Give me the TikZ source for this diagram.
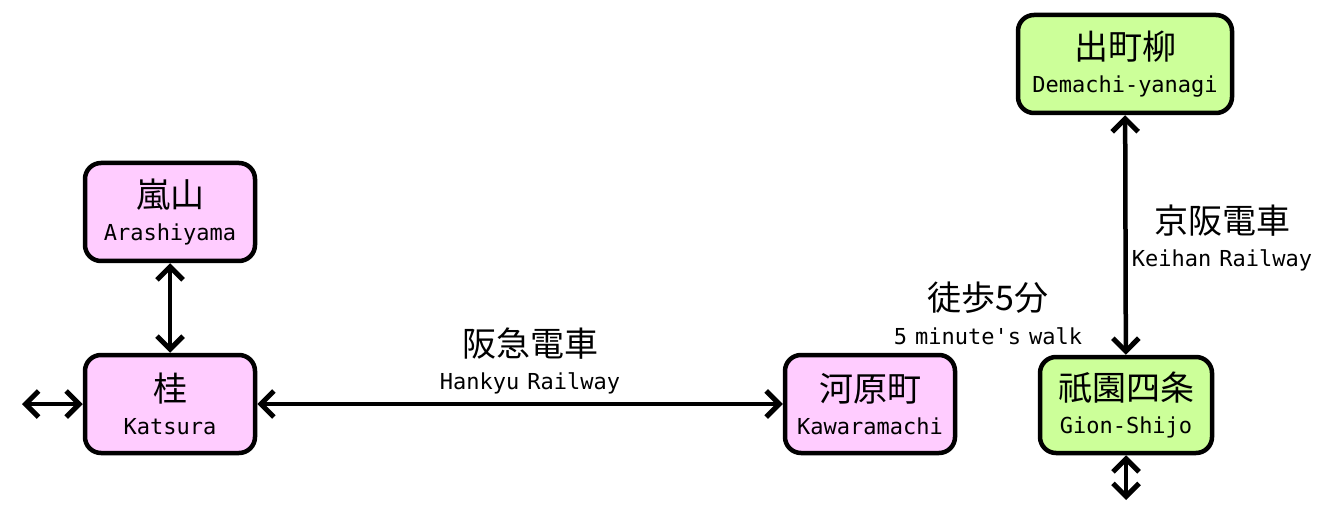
\documentclass[tikz,border=0pt]{standalone}
\usepackage{fontspec}
\usetikzlibrary{arrows.meta}
\newfontfamily\jpfont{Noto Sans CJK JP}
\newfontfamily\enfont[WordSpace=0.6]{DejaVu Sans Mono}
\newcommand{\jpl}[1]{{\fontsize{34}{36}\jpfont #1}}
\newcommand{\enl}[1]{{\fontsize{22}{24}\enfont #1}}
\definecolor{pinkfill}{HTML}{FFCCFF}
\definecolor{greenfill}{HTML}{CCFF99}
\tikzset{
  station/.style={draw=black, line width=4.5pt, rounded corners=16pt, align=center,
     minimum height=98pt, inner sep=0pt, text=black},
  pinkbox/.style={station, fill=pinkfill, minimum width=170pt},
  greenbox/.style={station, fill=greenfill},
  arr/.style={line width=4.5pt, {Straight Barb[length=13pt,width=26pt,line width=5pt]}-{Straight Barb[length=13pt,width=26pt,line width=5pt]}},
  lbl/.style={inner sep=0pt, align=center, text=black}
}
\begin{document}
\begin{tikzpicture}[x=1pt,y=-1pt]
\useasboundingbox (0,0) rectangle (1319,521);
\node[pinkbox] (arashiyama) at (170,212) {\jpl{嵐山}\\[13pt]\enl{Arashiyama}};
\node[pinkbox] (katsura) at (170,404) {\jpl{桂}\\[13pt]\enl{Katsura}};
\node[pinkbox] (kawaramachi) at (870,404) {\jpl{河原町}\\[13pt]\enl{Kawaramachi}};
\node[greenbox, minimum width=172pt, minimum height=96pt] (gion) at (1126,405) {\jpl{祇園四条}\\[13pt]\enl{Gion-Shijo}};
\node[greenbox, minimum width=214pt] (demachi) at (1125,64) {\jpl{出町柳}\\[13pt]\enl{Demachi-yanagi}};

\node[lbl] (hankyu) at (530,361) {\jpl{阪急電車}\\[13pt]\enl{Hankyu Railway}};
\node[lbl] (walk) at (988,313) {\jpl{徒歩5分}\\[13pt]\enl{5 minute's walk}};
\node[lbl] (keihan) at (1222,238) {\jpl{京阪電車}\\[13pt]\enl{Keihan Railway}};

\coordinate (leftend) at (22,404);
\coordinate (bottomend) at (1126,500);
\draw[arr] (leftend) -- (katsura.west);
\draw[arr] (katsura) -- (kawaramachi);
\draw[arr] (arashiyama) -- (katsura);
\draw[arr] (demachi) -- (gion);
\draw[arr] (gion.south) -- (bottomend);
\end{tikzpicture}
\end{document}
